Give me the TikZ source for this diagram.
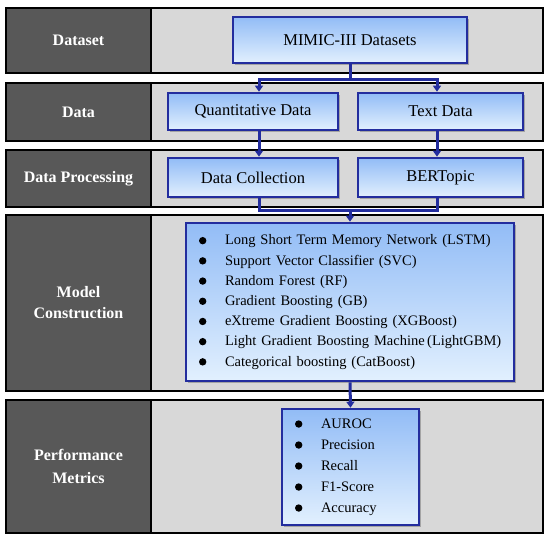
\documentclass[tikz,border=0pt]{standalone}
\usepackage{fontspec}
\setmainfont{Liberation Serif}
\usepackage{xcolor}
\usetikzlibrary{arrows.meta, calc, shadows}

\definecolor{boxline}{RGB}{35,45,158}
\definecolor{boxtop}{RGB}{146,188,246}
\definecolor{boxbot}{RGB}{226,240,254}
\definecolor{stagedark}{RGB}{88,88,88}
\definecolor{stagelight}{RGB}{216,216,216}

\hyphenpenalty=10000
\newcommand{\blt}{\makebox[31pt][l]{\hspace{5pt}\tikz[baseline=-4.2pt]\fill[black] (0pt,0pt) circle (3.7pt);}}

\begin{document}
\begin{tikzpicture}[x=1pt, y=-1pt, >={Triangle[width=8pt,length=6pt]},
  stagename/.style={draw=black, line width=1.2pt, fill=stagedark, text=white, align=center, minimum width=145pt, font=\fontsize{16}{21}\selectfont\bfseries},
  stagebg/.style={draw=black, line width=1.2pt, fill=stagelight},
  flowbox/.style={draw=boxline, line width=2.6pt, top color=boxtop, bottom color=boxbot, font=\fontsize{16.5}{20}\selectfont,
    drop shadow={shadow xshift=2pt, shadow yshift=-2pt, opacity=0.45, fill=black!60}},
  listbox/.style={flowbox, align=left, inner xsep=8pt, font=\fontsize{14.5}{20.2}\selectfont},
  conn/.style={draw=boxline, line width=3pt}]
  \useasboundingbox[fill=white] (0,0) rectangle (550,541);

  % stage rows
  \draw[stagebg] (151,8) rectangle (543,73);
  \draw[stagebg] (151,83) rectangle (543,141);
  \draw[stagebg] (151,150) rectangle (543,207);
  \draw[stagebg] (151,215) rectangle (543,391);
  \draw[stagebg] (151,400) rectangle (543,533);
  \node[stagename, minimum height=65pt] (sDataset) at (78.5,40.5) {Dataset};
  \node[stagename, minimum height=58pt] (sData) at (78.5,112) {Data};
  \node[stagename, minimum height=57pt] (sProc) at (78.5,178.5) {Data Processing};
  \node[stagename, minimum height=176pt] (sModel) at (78.5,303) {Model\\Construction};
  \node[stagename, minimum height=133pt, font=\fontsize{16}{23}\selectfont\bfseries] (sMetric) at (78.5,466.5) {Performance\\Metrics};

  % boxes
  \node[flowbox, minimum width=234pt, minimum height=46pt] (mimic) at (350,40) {MIMIC-III Datasets};
  \node[flowbox, minimum width=170pt, minimum height=37pt] (quant) at (253,111.5) {Quantitative Data};
  \node[flowbox, minimum width=165pt, minimum height=37pt] (textdata) at (440.5,111.5) {Text Data};
  \node[flowbox, minimum width=170pt, minimum height=39pt] (dcoll) at (253,177.5) {Data Collection};
  \node[flowbox, minimum width=165pt, minimum height=39pt] (bert) at (440.5,177.5) {BERTopic};
  \node[listbox, text width=312pt, minimum height=158pt] (model) at (350,302) {
    \blt Long Short Term Memory Network (LSTM)\\
    \blt Support Vector Classifier (SVC)\\
    \blt Random Forest (RF)\\
    \blt Gradient Boosting (GB)\\
    \blt eXtreme Gradient Boosting (XGBoost)\\
    \blt Light Gradient Boosting Machine\,(LightGBM)\\
    \blt Categorical boosting (CatBoost)};
  \node[listbox, text width=121pt, minimum height=116pt, font=\fontsize{14.5}{21}\selectfont] (metrics) at (350.5,467) {
    \blt AUROC\\
    \blt Precision\\
    \blt Recall\\
    \blt F1-Score\\
    \blt Accuracy};

  % connectors
  \coordinate (fork1) at ($(mimic.south)+(0,15)$);
  \coordinate (join1) at (350,210);
  \draw[conn] (mimic.south) -- (fork1);
  \draw[conn, ->] (fork1) -| ($(quant.north)+(6,0)$);
  \draw[conn, ->] (fork1) -| ($(textdata.north)+(-3.5,0)$);
  \draw[conn, ->] ($(quant.south)+(6,0)$) -- ($(dcoll.north)+(6,0)$);
  \draw[conn, ->] ($(textdata.south)+(-3.5,0)$) -- ($(bert.north)+(-3.5,0)$);
  \draw[conn] ($(dcoll.south)+(6,0)$) |- (join1) -| ($(bert.south)+(-3.5,0)$);
  \draw[conn, ->] (join1) -- (model.north);
  \draw[conn, ->] (model.south) -- (metrics.north);
\end{tikzpicture}
\end{document}
